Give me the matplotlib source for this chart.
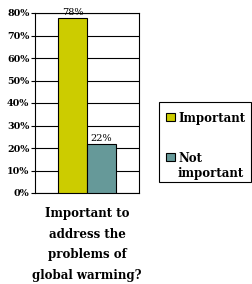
import matplotlib.pyplot as plt
from matplotlib.patches import Rectangle

categories = ["Important", "Not\nimportant"]
values = [78, 22]
colors = ["#CCCC00", "#669999"]
yticks = [0, 10, 20, 30, 40, 50, 60, 70, 80]
xlabel = "Important to\naddress the\nproblems of\nglobal warming?"

plt.rcParams['font.family'] = ['DejaVu Serif']

W, H = 252, 284
fig = plt.figure(figsize=(W / 100, H / 100), dpi=100)
ax = fig.add_axes([35 / W, 1 - 193 / H, 104 / W, 180 / H])

pos = [-0.5, 0.5]
ax.bar(pos, values, width=1.0, color=colors, edgecolor="black", linewidth=0.8, zorder=3)
for p, v in zip(pos, values):
    ax.text(p, v + 0.2, f"{v}%", ha="center", va="bottom", fontsize=7)

ax.set_xlim(-1.8, 1.8)
ax.set_ylim(0, 80)
ax.set_yticks(yticks)
ax.set_yticklabels([f"{t}%" for t in yticks], fontsize=6.8, fontweight="bold")
ax.set_xticks([])
ax.grid(axis="y", color="black", linewidth=0.8, zorder=0)
ax.tick_params(axis="y", length=3, width=0.8, pad=1)
for s in ax.spines.values():
    s.set_linewidth(0.8)
ax.set_xlabel(xlabel, fontsize=8.5, fontweight="bold", labelpad=10, linespacing=1.78)

# legend drawn by hand so the swatch sits on the first line of a two-line label
def px(x, y):
    return x / W, 1 - y / H

fig.add_artist(Rectangle(px(159, 182), 92 / W, 80 / H, transform=fig.transFigure,
                         facecolor="white", edgecolor="black", linewidth=0.8))
baselines = [122, 162]
line_gap = 15
for c, label, yb in zip(colors, categories, baselines):
    fig.add_artist(Rectangle(px(166, yb - 1), 9 / W, 8 / H, transform=fig.transFigure,
                             facecolor=c, edgecolor="black", linewidth=0.8))
    # va="baseline" anchors the last line, so push down by the extra lines
    extra = label.count("\n") * line_gap
    fig.text(*px(178, yb + extra), label, ha="left", va="baseline", fontsize=8.5,
             fontweight="bold", linespacing=1.25)

fig.savefig("out.png", dpi=100)
